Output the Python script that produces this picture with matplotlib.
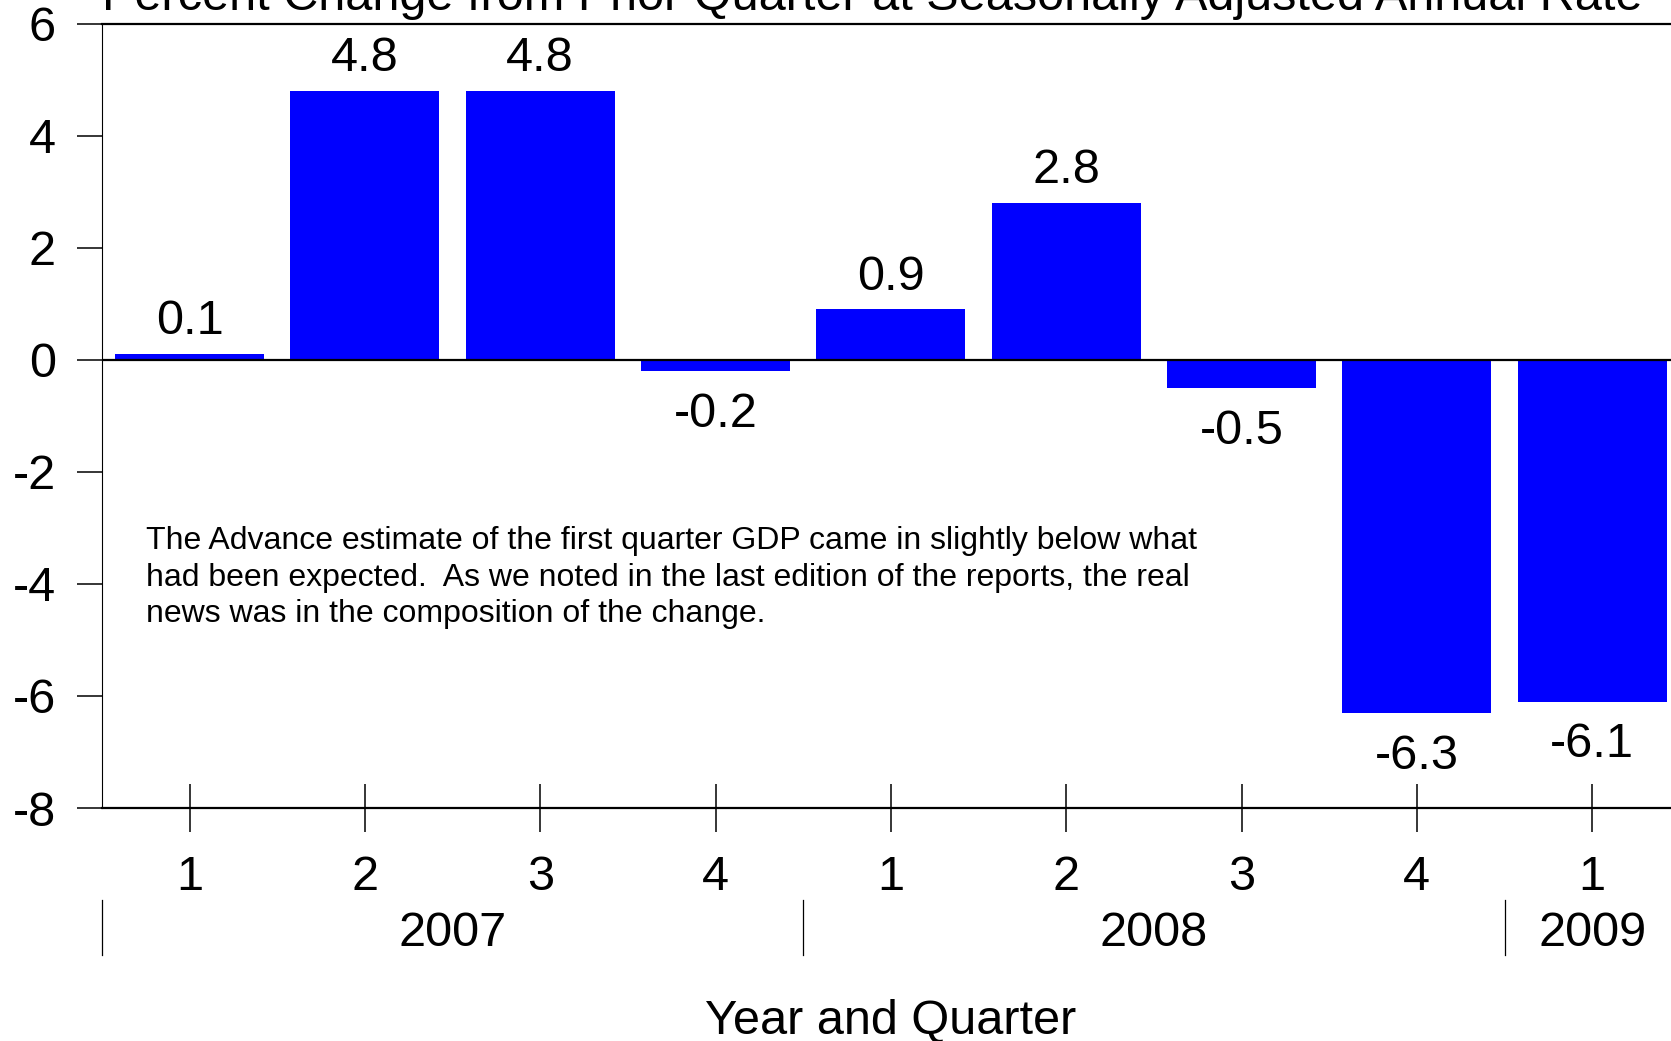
import matplotlib.pyplot as plt
from matplotlib import transforms

plt.rcParams['font.family'] = ['Liberation Sans', 'DejaVu Sans']
plt.rcParams['axes.unicode_minus'] = False

quarters = ['1', '2', '3', '4', '1', '2', '3', '4', '1']
changes = [0.1, 4.8, 4.8, -0.2, 0.9, 2.8, -0.5, -6.3, -6.1]
years = ['2007', '2008', '2009']
year_centers = [1.5, 5.5, 8.0]
year_bounds = [-0.5, 3.5, 7.5]
yticks = [-8, -6, -4, -2, 0, 2, 4, 6]

note = ("The Advance estimate of the first quarter GDP came in slightly below what\n"
        "had been expected.  As we noted in the last edition of the reports, the real\n"
        "news was in the composition of the change.")

fs = 35

fig = plt.figure(figsize=(16.71, 10.41), dpi=100)
ax = fig.add_axes([0.061, 0.2238, 0.9443, 0.7535])

x = list(range(len(changes)))
ax.bar(x, changes, width=0.85, color='#0000FF', zorder=2)
ax.axhline(0, color='black', lw=1.6, zorder=3)

for xi, v in zip(x, changes):
    if v >= 0:
        ax.annotate(f"{v:.1f}", (xi, v), xytext=(0, 7), textcoords='offset points',
                    ha='center', va='bottom', fontsize=fs)
    else:
        ax.annotate(f"{v:.1f}", (xi, v), xytext=(0, -15), textcoords='offset points',
                    ha='center', va='top', fontsize=fs)

ax.set_xlim(-0.5, 8.5)
ax.set_ylim(-8, 6)
ax.set_yticks(yticks)
ax.set_yticklabels([str(t) for t in yticks], fontsize=fs)
ax.set_xticks(x)
ax.set_xticklabels(quarters, fontsize=fs)
ax.tick_params(axis='x', direction='inout', length=34, width=1.1, pad=17)
ax.tick_params(axis='y', direction='out', length=18, width=1.1, pad=15)

ax.spines['right'].set_visible(False)
ax.spines['left'].set_linewidth(0.8)
ax.spines['top'].set_linewidth(1.6)
ax.spines['bottom'].set_linewidth(1.6)

trans = transforms.blended_transform_factory(ax.transData, ax.transAxes)
for yr, xc in zip(years, year_centers):
    ax.text(xc, -0.160, yr, transform=trans, ha='center', va='center', fontsize=fs)
for xb in year_bounds:
    ax.plot([xb, xb], [-0.117, -0.188], transform=trans, color='black', lw=0.9, clip_on=False)

ax.text(0.5, -0.272, 'Year and Quarter', transform=ax.transAxes, ha='center', va='center', fontsize=fs)

ax.text(-0.25, -2.97, note, ha='left', va='top', fontsize=23, linespacing=1.28)

fig.text(0.5219, 0.9904, 'Percent Change from Prior Quarter at Seasonally Adjusted Annual Rate',
         ha='center', va='baseline', fontsize=fs)

fig.savefig('out.png', dpi=100)
